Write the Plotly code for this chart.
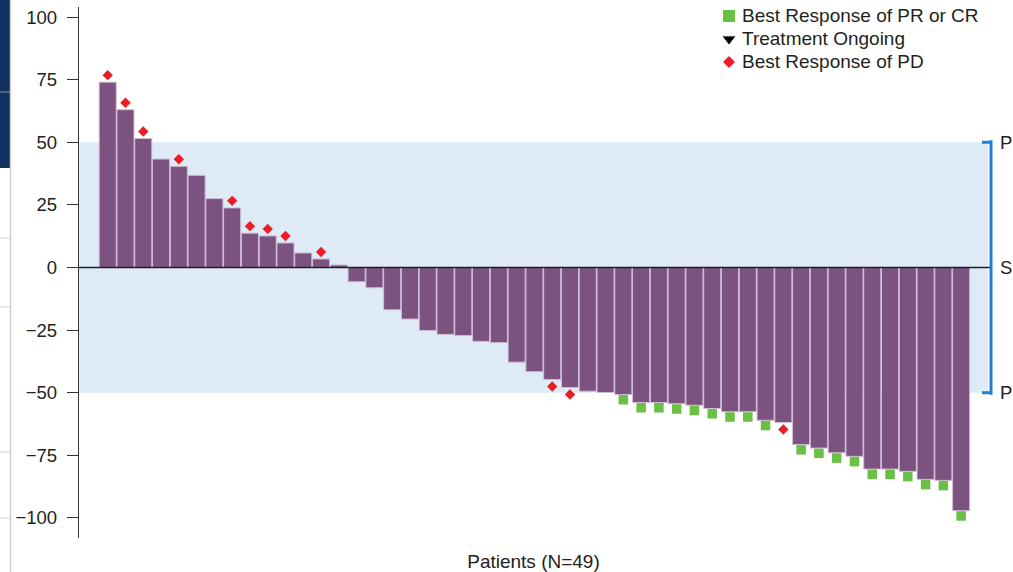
import plotly.graph_objects as go

# Best percentage change from baseline in tumour size, one bar per patient
patients = list(range(1, 50))
change_pct = [74, 63, 51.5, 43.3, 40.4, 36.8, 27.5, 23.8, 13.7, 12.6, 9.8, 5.8, 3.4, 1.0,
              -5.7, -8.1, -16.9, -20.6, -25.2, -26.7, -27.2, -29.5, -30.0,
              -37.8, -41.6, -44.7, -47.9, -49.4, -49.9,
              -50.7, -53.9, -53.9, -54.4, -55.0, -56.3, -57.6, -57.6, -61.0, -61.9,
              -70.7, -72.1, -74.0, -75.4, -80.5, -80.5, -81.4, -84.6, -85.0, -97.1]
# Best overall response per patient ("PD", "PR/CR" or "" when neither)
best_response = ["PD", "PD", "PD", "", "PD", "", "", "PD", "PD", "PD", "PD", "", "PD", "",
                 "", "", "", "", "", "", "", "", "",
                 "", "", "PD", "PD", "", "",
                 "PR/CR", "PR/CR", "PR/CR", "PR/CR", "PR/CR", "PR/CR", "PR/CR", "PR/CR", "PR/CR", "PD",
                 "PR/CR", "PR/CR", "PR/CR", "PR/CR", "PR/CR", "PR/CR", "PR/CR", "PR/CR", "PR/CR", "PR/CR"]
y_ticks = [100, 75, 50, 25, 0, -25, -50, -75, -100]
band_labels = ["P", "S", "P"]
band_levels = [50, 0, -50]

legend_names = ["Best Response of PR or CR", "Treatment Ongoing", "Best Response of PD"]

PURPLE = "#7b5280"
GREEN = "#6abf45"
RED = "#ee1c25"
BAND = "#deebf7"
BRACKET = "#1f7fd0"
INK = "#231f20"
FONT = "Liberation Sans, Arial, sans-serif"

W, H = 1013, 572
L, R, T, B = 79, 988, 7, 538  # plot area edges in pixels


def px_x(px):
    return (px - L) / (R - L)


def px_y(py):
    return (B - py) / (B - T)


# Marker positions just beyond the bar end
pd_x, pd_y, pr_x, pr_y = [], [], [], []
for p, v, r in zip(patients, change_pct, best_response):
    sign = 1 if v >= 0 else -1
    if r == "PD":
        pd_x.append(p)
        pd_y.append(v + sign * 2.8)
    elif r == "PR/CR":
        pr_x.append(p)
        pr_y.append(v - 2.1)

fig = go.Figure()
fig.add_trace(go.Bar(
    x=patients, y=change_pct, marker=dict(color=PURPLE, line=dict(color="#cdbfd1", width=1)),
    showlegend=False, hoverinfo="x+y",
))
fig.add_trace(go.Scatter(
    x=pr_x, y=pr_y, mode="markers", showlegend=False,
    marker=dict(symbol="square", size=9.5, color=GREEN),
))
fig.add_trace(go.Scatter(
    x=pd_x, y=pd_y, mode="markers", showlegend=False,
    marker=dict(symbol="diamond", size=8, color=RED),
))

# Key in the top-right corner: symbols on a pixel-scaled overlay axis, names as annotations
key_symbols = ["square", "triangle-down", "diamond"]
key_sizes = [13, 12.5, 10]
key_colors = [GREEN, "#000000", RED]
key_rows_px = [16, 39, 62]
fig.add_trace(go.Scatter(
    x=[729] * 3, y=key_rows_px, xaxis="x2", yaxis="y2", mode="markers",
    marker=dict(symbol=key_symbols, size=key_sizes, color=key_colors, opacity=1),
    showlegend=False, hoverinfo="skip",
))

shapes = []
# Stable-disease band
shapes.append(dict(type="rect", xref="paper", yref="y", x0=0, x1=1, y0=-50, y1=50,
                   fillcolor=BAND, line=dict(width=0), layer="below"))
# Zero line across the plot
shapes.append(dict(type="line", xref="paper", yref="y", x0=0, x1=px_x(990), y0=0, y1=0,
                   line=dict(color=INK, width=1.3), layer="above"))
# Bracket on the right
bx = px_x(991)
shapes.append(dict(type="line", xref="paper", yref="y", x0=bx, x1=bx, y0=-50.8, y1=50.8,
                   line=dict(color=BRACKET, width=3)))
for lvl in (50, -50):
    shapes.append(dict(type="line", xref="paper", yref="y", x0=px_x(982), x1=bx, y0=lvl, y1=lvl,
                       line=dict(color=BRACKET, width=3)))

# Panel edge on the left
shapes.append(dict(type="rect", xref="paper", yref="paper", x0=px_x(0), x1=px_x(10),
                   y0=px_y(168), y1=px_y(0), fillcolor="#12305f", line=dict(width=0)))
shapes.append(dict(type="line", xref="paper", yref="paper", x0=px_x(0), x1=px_x(10),
                   y0=px_y(92), y1=px_y(92), line=dict(color="#8393ad", width=1)))
shapes.append(dict(type="line", xref="paper", yref="paper", x0=px_x(10.5), x1=px_x(10.5),
                   y0=px_y(572), y1=px_y(0), line=dict(color="#cfcfcf", width=1.5)))
for py in (238, 307, 452, 518):
    shapes.append(dict(type="line", xref="paper", yref="paper", x0=px_x(0), x1=px_x(10),
                       y0=px_y(py), y1=px_y(py), line=dict(color="#cfcfcf", width=1)))

annotations = [
    dict(x=px_x(998), y=lvl, xref="paper", yref="y", text=t, showarrow=False,
         xanchor="left", yanchor="middle", font=dict(family=FONT, size=18.5, color=INK))
    for t, lvl in zip(band_labels, band_levels)
]
annotations += [
    dict(x=px_x(740), y=px_y(py), xref="paper", yref="paper", text=name, showarrow=False,
         xanchor="left", yanchor="middle", font=dict(family=FONT, size=19, color=INK))
    for name, py in zip(legend_names, key_rows_px)
]

fig.update_layout(
    width=W, height=H,
    margin=dict(l=L, r=W - R, t=T, b=H - B, autoexpand=False),
    paper_bgcolor="white", plot_bgcolor="white",
    font=dict(family=FONT, size=18.5, color=INK),
    bargap=0.04,
    showlegend=False,
    shapes=shapes,
    annotations=annotations,
    xaxis=dict(range=[-0.614, 50.51], showticklabels=False, showgrid=False, zeroline=False,
               showline=False, ticks="",
               title=dict(text="Patients (N=49)", standoff=18,
                          font=dict(family=FONT, size=19, color=INK))),
    yaxis=dict(range=[-108, 104], tickvals=y_ticks, showgrid=False, zeroline=False,
               showline=True, linecolor="#333333", linewidth=1.3,
               ticks="outside", ticklen=11, tickwidth=1.3, tickcolor="#333333",
               ticklabelstandoff=6,
               tickfont=dict(family=FONT, size=18.5, color=INK)),
    xaxis2=dict(overlaying="x", range=[L, R], visible=False, fixedrange=True),
    yaxis2=dict(overlaying="y", range=[B, T], visible=False, fixedrange=True),
)

fig.write_html("out.html")
